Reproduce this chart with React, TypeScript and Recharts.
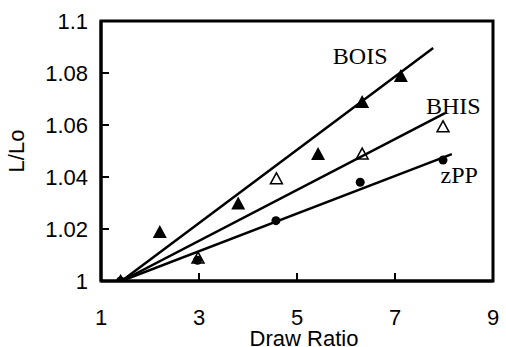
import React from 'react';
import { ScatterChart, Scatter, XAxis, YAxis, ReferenceArea, ReferenceDot, Label } from 'recharts';

const xTicks = [1, 3, 5, 7, 9];
const yTicks = [1, 1.02, 1.04, 1.06, 1.08, 1.1];

const boisPoints = [
  { x: 1.4, y: 1.0 },
  { x: 2.2, y: 1.019 },
  { x: 3.8, y: 1.03 },
  { x: 5.43, y: 1.049 },
  { x: 6.33, y: 1.069 },
  { x: 7.12, y: 1.079 },
];
const bhisPoints = [
  { x: 1.4, y: 1.0 },
  { x: 2.98, y: 1.009 },
  { x: 4.58, y: 1.0395 },
  { x: 6.33, y: 1.049 },
  { x: 7.98, y: 1.0595 },
];
const zppPoints = [
  { x: 1.4, y: 1.0 },
  { x: 2.97, y: 1.008 },
  { x: 4.57, y: 1.0232 },
  { x: 6.29, y: 1.038 },
  { x: 7.98, y: 1.0465 },
];

const boisTrend = [
  { x: 1.42, y: 1.0 },
  { x: 7.78, y: 1.0896 },
];
const bhisTrend = [
  { x: 1.42, y: 1.0 },
  { x: 8.02, y: 1.0646 },
];
const zppTrend = [
  { x: 1.42, y: 1.0 },
  { x: 8.16, y: 1.0488 },
];

const seriesLabels = [
  { x: 6.29, y: 1.0869, text: 'BOIS' },
  { x: 8.19, y: 1.0677, text: 'BHIS' },
  { x: 8.31, y: 1.0408, text: 'zPP' },
];

const SANS = 'Arial, "Liberation Sans", sans-serif';
const SERIF = '"Times New Roman", "Liberation Serif", serif';

const FilledTriangle = (p: any) => {
  const { cx, cy } = p;
  const w = 14, h = 13;
  return (
    <polygon
      points={`${cx - w / 2},${cy + h / 2} ${cx + w / 2},${cy + h / 2} ${cx},${cy - h / 2}`}
      fill="#000"
    />
  );
};

const OpenTriangle = (p: any) => {
  const { cx, cy } = p;
  const w = 12, h = 11;
  return (
    <polygon
      points={`${cx - w / 2},${cy + h / 2} ${cx + w / 2},${cy + h / 2} ${cx},${cy - h / 2}`}
      fill="none"
      stroke="#000"
      strokeWidth={1.5}
    />
  );
};

const Dot = (p: any) => <circle cx={p.cx} cy={p.cy} r={4.5} fill="#000" />;
const NoShape = () => null;

const YLabel = () => (
  <text
    x={16}
    y={151}
    transform="rotate(-90,16,151)"
    textAnchor="middle"
    dominantBaseline="central"
    fontFamily={SANS}
    fontSize={22}
    fill="#000"
  >
    L/Lo
  </text>
);

export default function App() {
  return (
    <div style={{ position: 'absolute', left: 0, top: 0, background: '#fff' }}>
      <ScatterChart width={506} height={347} margin={{ top: 21, right: 13, bottom: 0, left: 0 }}>
        <XAxis
          type="number"
          dataKey="x"
          domain={[1, 9]}
          ticks={xTicks}
          interval={0}
          allowDataOverflow
          height={66}
          tickSize={-8}
          tickMargin={36}
          axisLine={{ stroke: '#000', strokeWidth: 3 }}
          tickLine={{ stroke: '#000', strokeWidth: 2 }}
          tick={{ fill: '#000', fontSize: 22, fontFamily: SANS }}
        >
          <Label
            value="Draw Ratio"
            position="insideBottom"
            offset={1}
            dx={7}
            fill="#000"
            fontSize={22}
            fontFamily={SANS}
          />
        </XAxis>
        <YAxis
          type="number"
          dataKey="y"
          domain={[1, 1.1]}
          ticks={yTicks}
          interval={0}
          allowDataOverflow
          width={101}
          tickSize={-8}
          tickMargin={21}
          axisLine={{ stroke: '#000', strokeWidth: 3 }}
          tickLine={{ stroke: '#000', strokeWidth: 2 }}
          tick={{ fill: '#000', fontSize: 22, fontFamily: SANS }}
        >
          <Label content={<YLabel />} />
        </YAxis>
        <ReferenceArea x1={1} x2={9} y1={1} y2={1.1} fill="none" stroke="#000" strokeWidth={3} ifOverflow="visible" />

        <Scatter data={boisTrend} line={{ stroke: '#000', strokeWidth: 2.5 }} shape={NoShape} isAnimationActive={false} />
        <Scatter data={bhisTrend} line={{ stroke: '#000', strokeWidth: 2.5 }} shape={NoShape} isAnimationActive={false} />
        <Scatter data={zppTrend} line={{ stroke: '#000', strokeWidth: 2.5 }} shape={NoShape} isAnimationActive={false} />

        <Scatter data={zppPoints} shape={Dot} isAnimationActive={false} />
        <Scatter data={bhisPoints} shape={OpenTriangle} isAnimationActive={false} />
        <Scatter data={boisPoints} shape={FilledTriangle} isAnimationActive={false} />

        {seriesLabels.map((l) => (
          <ReferenceDot
            key={l.text}
            x={l.x}
            y={l.y}
            r={0}
            fill="none"
            stroke="none"
            ifOverflow="visible"
            label={{ value: l.text, position: 'center', fill: '#000', fontSize: 24, fontFamily: SERIF }}
          />
        ))}
      </ScatterChart>
    </div>
  );
}
